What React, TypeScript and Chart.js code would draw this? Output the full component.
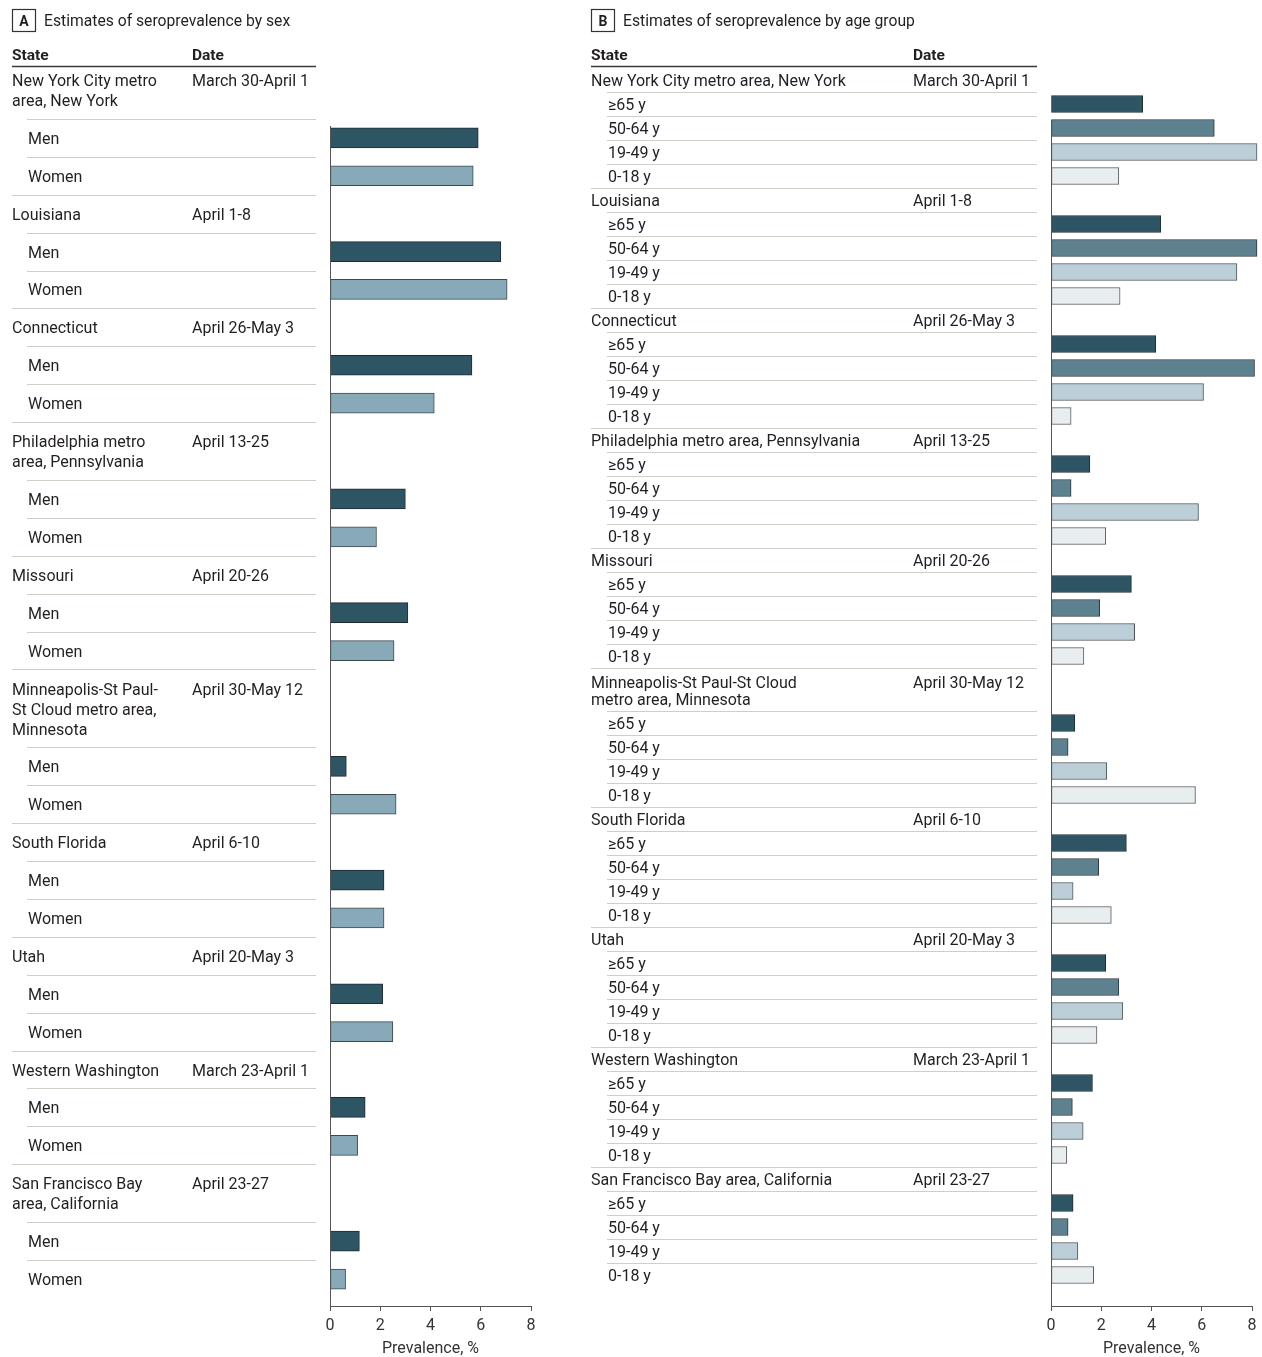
import React, { useEffect, useRef } from 'react';
import { Chart, registerables } from 'chart.js';

Chart.register(...registerables);

// ---------------- DATA ----------------
const dates = [
  'March 30-April 1',
  'April 1-8',
  'April 26-May 3',
  'April 13-25',
  'April 20-26',
  'April 30-May 12',
  'April 6-10',
  'April 20-May 3',
  'March 23-April 1',
  'April 23-27',
];

const sexStateLines = [
  ['New York City metro', 'area, New York'],
  ['Louisiana'],
  ['Connecticut'],
  ['Philadelphia metro', 'area, Pennsylvania'],
  ['Missouri'],
  ['Minneapolis-St Paul-', 'St Cloud metro area,', 'Minnesota'],
  ['South Florida'],
  ['Utah'],
  ['Western Washington'],
  ['San Francisco Bay', 'area, California'],
];

const ageStateLines = [
  ['New York City metro area, New York'],
  ['Louisiana'],
  ['Connecticut'],
  ['Philadelphia metro area, Pennsylvania'],
  ['Missouri'],
  ['Minneapolis-St Paul-St Cloud', 'metro area, Minnesota'],
  ['South Florida'],
  ['Utah'],
  ['Western Washington'],
  ['San Francisco Bay area, California'],
];

const sexGroups = ['Men', 'Women'];
const menValues = [5.9, 6.8, 5.65, 3.0, 3.1, 0.65, 2.15, 2.1, 1.4, 1.17];
const womenValues = [5.7, 7.05, 4.15, 1.85, 2.55, 2.63, 2.15, 2.5, 1.1, 0.62];

const ageGroups = ['≥65 y', '50-64 y', '19-49 y', '0-18 y'];
const age65Values = [3.65, 4.37, 4.17, 1.55, 3.2, 0.95, 3.0, 2.18, 1.65, 0.88];
const age50Values = [6.5, 8.2, 8.1, 0.8, 1.94, 0.68, 1.9, 2.7, 0.85, 0.68];
const age19Values = [8.2, 7.4, 6.07, 5.87, 3.33, 2.22, 0.88, 2.86, 1.28, 1.07];
const age0Values = [2.7, 2.75, 0.8, 2.18, 1.31, 5.75, 2.4, 1.83, 0.63, 1.7];

const xTicks = [0, 2, 4, 6, 8];
const xTitle = 'Prevalence, %';

// ---------------- STYLE / LAYOUT ----------------
const W = 1262;
const H = 1357;
const AXIS_Y = 1306;
const FAMILY = 'Roboto, "Liberation Sans", sans-serif';
const TEXT = '#231f20';
const SEP = '#cfcfc8';
const TEXT_DY = 2; // visual baseline correction for canvas 'middle'

type Row = {
  kind: 'state' | 'sub';
  top: number;
  bottom: number;
  center: number;
  lines?: string[];
  date?: string;
  label?: string;
  state: number;
  group: number;
  last: boolean;
};

type PanelCfg = {
  letter: string;
  title: string;
  canvasLeft: number;
  canvasWidth: number;
  plotLeft: number;
  plotRight: number;
  stateX: number;
  subX: number;
  dateX: number;
  lineRight: number;
  tableTop: number;
  stateRowHeight: (n: number) => number;
  firstLineOffset: (n: number) => number;
  lineGap: number;
  subRowHeight: number;
  barThickness: number;
  axisTop: number;
  stateLines: string[][];
  groups: string[];
  series: { values: number[]; color: string; border: string }[];
};

const panelA: PanelCfg = {
  letter: 'A',
  title: 'Estimates of seroprevalence by sex',
  canvasLeft: 0,
  canvasWidth: 560,
  plotLeft: 330,
  plotRight: 531,
  stateX: 12,
  subX: 28,
  dateX: 192,
  lineRight: 316,
  tableTop: 61,
  stateRowHeight: (n) => 37.9 + 20 * (n - 1),
  firstLineOffset: () => 19,
  lineGap: 20,
  subRowHeight: 37.9,
  barThickness: 20,
  axisTop: 126,
  stateLines: sexStateLines,
  groups: sexGroups,
  series: [
    { values: menValues, color: '#2e5564', border: '#1f2d33' },
    { values: womenValues, color: '#87a9b8', border: '#3c4a50' },
  ],
};

const panelB: PanelCfg = {
  letter: 'B',
  title: 'Estimates of seroprevalence by age group',
  canvasLeft: 560,
  canvasWidth: 702,
  plotLeft: 1051,
  plotRight: 1252,
  stateX: 591,
  subX: 608,
  dateX: 913,
  lineRight: 1037,
  tableTop: 68,
  stateRowHeight: (n) => (n > 1 ? 43 : 24),
  firstLineOffset: (n) => (n > 1 ? 14 : 12),
  lineGap: 17,
  subRowHeight: 24,
  barThickness: 17,
  axisTop: 120,
  stateLines: ageStateLines,
  groups: ageGroups,
  series: [
    { values: age65Values, color: '#2e5564', border: '#1f2d33' },
    { values: age50Values, color: '#5e818f', border: '#2a383e' },
    { values: age19Values, color: '#bccfd8', border: '#4a5458' },
    { values: age0Values, color: '#e8edf0', border: '#555a5c' },
  ],
};

function buildRows(cfg: PanelCfg): Row[] {
  const rows: Row[] = [];
  let y = cfg.tableTop;
  cfg.stateLines.forEach((lines, i) => {
    const h = cfg.stateRowHeight(lines.length);
    rows.push({ kind: 'state', top: y, bottom: y + h, center: y + h / 2, lines, date: dates[i], state: i, group: -1, last: false });
    y += h;
    cfg.groups.forEach((g, gi) => {
      const sh = cfg.subRowHeight;
      rows.push({ kind: 'sub', top: y, bottom: y + sh, center: y + sh / 2, label: g, state: i, group: gi, last: gi === cfg.groups.length - 1 });
      y += sh;
    });
  });
  return rows;
}

function Panel({ cfg }: { cfg: PanelCfg }) {
  const ref = useRef<HTMLCanvasElement>(null);

  useEffect(() => {
    if (!ref.current) return;
    const rows = buildRows(cfg);
    const subRows = rows.filter((r) => r.kind === 'sub');
    const off = cfg.canvasLeft;

    const datasets = cfg.series.map((s, si) => ({
      label: cfg.groups[si],
      data: s.values.map((v, i) => {
        const r = subRows.find((rr) => rr.state === i && rr.group === si)!;
        return { x: v, y: r.center };
      }),
      backgroundColor: s.color,
      borderColor: s.border,
      borderWidth: 1,
      borderSkipped: false as const,
      barThickness: cfg.barThickness,
      categoryPercentage: 1,
      barPercentage: cfg.barThickness / cfg.subRowHeight,
      grouped: false,
      clip: false as any,
    }));

    const tablePlugin = {
      id: 'tablePlugin',
      afterDraw(chart: any) {
        const ctx: CanvasRenderingContext2D = chart.ctx;
        const yS = chart.scales.y;
        const xS = chart.scales.x;
        ctx.save();
        ctx.fillStyle = TEXT;
        ctx.textBaseline = 'middle';
        ctx.textAlign = 'left';

        // panel letter box + title
        const bx = cfg.stateX - off;
        ctx.strokeStyle = '#333';
        ctx.lineWidth = 1.2;
        ctx.strokeRect(bx + 0.5, 9.5, 23, 22);
        ctx.font = `bold 14px ${FAMILY}`;
        ctx.textAlign = 'center';
        ctx.fillText(cfg.letter, bx + 12, 21 + 1);
        ctx.textAlign = 'left';
        ctx.font = `15.7px ${FAMILY}`;
        ctx.fillText(cfg.title, bx + 32, 20 + TEXT_DY);

        // header
        ctx.font = `bold 15.5px ${FAMILY}`;
        ctx.fillText('State', cfg.stateX - off, 54 + TEXT_DY);
        ctx.fillText('Date', cfg.dateX - off, 54 + TEXT_DY);
        ctx.strokeStyle = '#3a3a3a';
        ctx.lineWidth = 1.6;
        ctx.beginPath();
        ctx.moveTo(cfg.stateX - off, 66.5);
        ctx.lineTo(cfg.lineRight - off, 66.5);
        ctx.stroke();

        // rows
        ctx.font = `16px ${FAMILY}`;
        rows.forEach((r, idx) => {
          if (r.kind === 'state') {
            const n = r.lines!.length;
            r.lines!.forEach((ln, li) => {
              const yy = yS.getPixelForValue(r.top + cfg.firstLineOffset(n) + li * cfg.lineGap) + TEXT_DY;
              ctx.fillText(ln, cfg.stateX - off, yy);
            });
            ctx.fillText(r.date!, cfg.dateX - off, yS.getPixelForValue(r.top + cfg.firstLineOffset(n)) + TEXT_DY);
          } else {
            ctx.fillText(r.label!, cfg.subX - off, yS.getPixelForValue(r.center) + TEXT_DY);
          }
          if (idx < rows.length - 1) {
            const full = r.kind === 'sub' && r.last;
            const x0 = (full ? cfg.stateX : cfg.subX - 1) - off;
            const ly = Math.round(yS.getPixelForValue(r.bottom)) + 0.5;
            ctx.strokeStyle = SEP;
            ctx.lineWidth = 1;
            ctx.beginPath();
            ctx.moveTo(x0, ly);
            ctx.lineTo(cfg.lineRight - off, ly);
            ctx.stroke();
          }
        });

        // vertical axis line
        const x0 = Math.round(xS.getPixelForValue(0)) + 0.5;
        ctx.strokeStyle = '#555';
        ctx.lineWidth = 1;
        ctx.beginPath();
        ctx.moveTo(x0, yS.getPixelForValue(cfg.axisTop));
        ctx.lineTo(x0, chart.chartArea.bottom);
        ctx.stroke();
        ctx.restore();
      },
    };

    const chart = new Chart(ref.current, {
      type: 'bar',
      data: { datasets: datasets as any },
      options: {
        responsive: false,
        animation: false,
        events: [],
        indexAxis: 'y',
        layout: {
          padding: {
            left: cfg.plotLeft - cfg.canvasLeft,
            right: cfg.canvasLeft + cfg.canvasWidth - cfg.plotRight,
            top: 0,
            bottom: 0,
          },
        },
        plugins: {
          legend: { display: false },
          tooltip: { enabled: false },
          title: { display: false },
        },
        scales: {
          y: {
            type: 'linear',
            display: false,
            offset: false,
            grid: { offset: false },
            min: 0,
            max: AXIS_Y,
            reverse: true,
          },
          x: {
            type: 'linear',
            position: 'bottom',
            offset: false,
            min: xTicks[0],
            max: xTicks[xTicks.length - 1],
            afterFit: (s: any) => {
              s.height = H - AXIS_Y;
            },
            afterBuildTicks: (s: any) => {
              s.ticks = xTicks.map((v) => ({ value: v }));
            },
            ticks: { font: { family: FAMILY, size: 16 }, color: '#333', padding: 5 },
            grid: { display: true, drawOnChartArea: false, drawTicks: true, tickLength: 5, color: '#555', tickColor: '#555' },
            border: { display: true, color: '#555', width: 1 },
            title: {
              display: true,
              text: xTitle,
              font: { family: FAMILY, size: 16, lineHeight: 1.0 },
              color: '#333',
              padding: { top: 2, bottom: 0 },
            },
          },
        },
      } as any,
      plugins: [tablePlugin],
    });
    return () => chart.destroy();
  }, [cfg]);

  return (
    <canvas
      ref={ref}
      width={cfg.canvasWidth}
      height={H}
      style={{ position: 'absolute', left: cfg.canvasLeft, top: 0, width: cfg.canvasWidth, height: H }}
    />
  );
}

export default function App() {
  return (
    <div style={{ position: 'absolute', left: 0, top: 0, width: W, height: H, background: '#fff', overflow: 'hidden' }}>
      <Panel cfg={panelA} />
      <Panel cfg={panelB} />
    </div>
  );
}
